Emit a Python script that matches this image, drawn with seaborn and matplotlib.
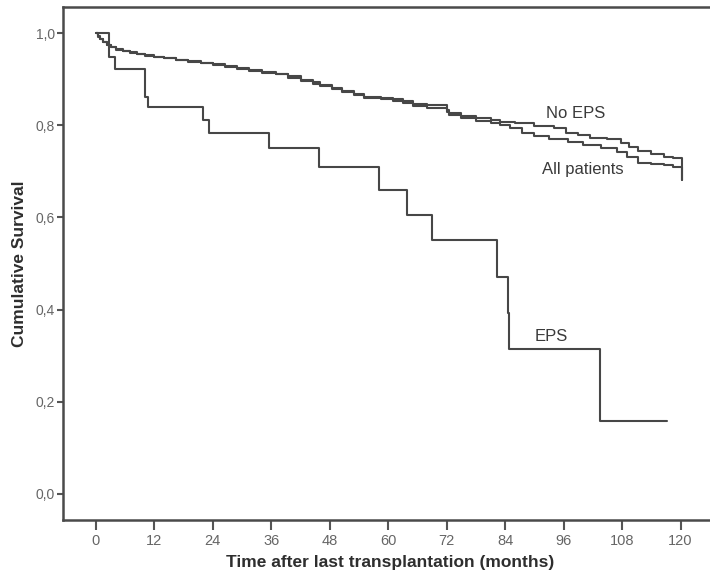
import numpy as np
import pandas as pd
import matplotlib
matplotlib.use("Agg")
import matplotlib.pyplot as plt
import seaborn as sns

# ---- data (Kaplan-Meier step points) ----
noeps_t = [0, 0.4, 0.9, 1.5, 2.2, 3.0, 4.2, 5.5, 7, 8.5, 10, 12, 14, 16.5, 19, 21.5, 24, 26.5,
           29, 31.5, 34, 37, 39.5, 42, 44.5, 46, 48.5, 50.5, 53, 55, 58.5, 61, 63, 65, 68, 72,
           72.5, 75, 78, 81, 83, 86, 90, 94, 96.5, 99, 101.5, 105, 107.8, 109.5, 111.2, 114,
           116.7, 118.5, 120.2]
noeps_s = [1.0, 0.993, 0.987, 0.981, 0.975, 0.970, 0.965, 0.961, 0.958, 0.955, 0.952, 0.949,
           0.946, 0.942, 0.939, 0.936, 0.933, 0.929, 0.924, 0.920, 0.916, 0.912, 0.906, 0.899,
           0.893, 0.887, 0.881, 0.874, 0.868, 0.862, 0.859, 0.856, 0.852, 0.845, 0.843, 0.833,
           0.826, 0.819, 0.815, 0.811, 0.808, 0.804, 0.799, 0.793, 0.783, 0.778, 0.772, 0.769,
           0.761, 0.752, 0.743, 0.737, 0.732, 0.729, 0.681]

all_t = [0, 0.4, 0.9, 1.5, 2.2, 3.0, 4.2, 5.5, 7, 8.5, 10, 12, 14, 16.5, 19, 21.5, 24, 26.5,
         29, 31.5, 34, 37, 39.5, 42, 44.5, 46, 48.5, 50.5, 53, 55, 58.5, 61, 63, 65, 68, 72,
         72.5, 75, 78, 81, 83, 85, 87.4, 90, 93, 96.9, 100, 103.7, 107, 109, 111.2, 114,
         116.7, 118.5, 120.2]
all_s = [1.0, 0.992, 0.986, 0.980, 0.974, 0.969, 0.964, 0.960, 0.957, 0.954, 0.951, 0.948,
         0.945, 0.941, 0.938, 0.935, 0.931, 0.927, 0.922, 0.918, 0.914, 0.910, 0.903, 0.896,
         0.890, 0.884, 0.878, 0.871, 0.865, 0.859, 0.856, 0.852, 0.848, 0.841, 0.838, 0.829,
         0.822, 0.815, 0.810, 0.805, 0.800, 0.794, 0.782, 0.777, 0.771, 0.764, 0.757, 0.750,
         0.741, 0.730, 0.717, 0.715, 0.713, 0.710, 0.681]

eps_t = [0, 2.7, 3.9, 10.0, 10.7, 21.9, 23.3, 35.6, 45.7, 58.1, 63.9, 69.0, 82.3, 84.5,
         84.7, 103.5, 117.2]
eps_s = [1.0, 0.949, 0.921, 0.862, 0.839, 0.811, 0.782, 0.750, 0.710, 0.659, 0.605, 0.551,
         0.471, 0.393, 0.314, 0.158, 0.158]

group_labels = ["No EPS", "All patients", "EPS"]
x_ticks = [0, 12, 24, 36, 48, 60, 72, 84, 96, 108, 120]
y_ticks = [0.0, 0.2, 0.4, 0.6, 0.8, 1.0]
y_ticklabels = ["0,0", "0,2", "0,4", "0,6", "0,8", "1,0"]

df = pd.concat([
    pd.DataFrame({"t": noeps_t, "s": noeps_s, "g": group_labels[0]}),
    pd.DataFrame({"t": all_t, "s": all_s, "g": group_labels[1]}),
    pd.DataFrame({"t": eps_t, "s": eps_s, "g": group_labels[2]}),
], ignore_index=True)

sns.set_style("white")
plt.rcParams["font.family"] = ["Liberation Sans", "DejaVu Sans"]

fig = plt.figure(figsize=(7.10, 5.73), dpi=100)
ax = fig.add_axes([63 / 710, 53 / 573, (710 - 63) / 710 + 0.01, (520 - 7) / 573])

line_col = "#474747"
for g in group_labels:
    sns.lineplot(data=df[df["g"] == g], x="t", y="s", ax=ax, color=line_col,
                 estimator=None, sort=False, drawstyle="steps-post", linewidth=1.5,
                 legend=False)

ax.set_xlim(-6.75, 127.5)
ax.set_ylim(-0.0564, 1.0564)
ax.set_xticks(x_ticks)
ax.set_xticklabels([str(v) for v in x_ticks])
ax.set_yticks(y_ticks)
ax.set_yticklabels(y_ticklabels)

ax.tick_params(axis="x", direction="out", length=7, width=1.5, color="#555555",
               labelsize=10.5, labelcolor="#666666", pad=3, bottom=True)
ax.tick_params(axis="y", direction="out", length=4, width=1.5, color="#555555",
               labelsize=10, labelcolor="#666666", pad=2, left=True)

for side in ["left", "bottom", "top"]:
    ax.spines[side].set_color("#4a4a4a")
    ax.spines[side].set_linewidth(1.8)
ax.spines["right"].set_visible(False)

ax.set_xlabel("Time after last transplantation (months)", fontsize=12.5, fontweight="bold",
              color="#2e2e2e", labelpad=5)
ax.set_ylabel("Cumulative Survival", fontsize=12.5, fontweight="bold", color="#2e2e2e",
              labelpad=6)

ax.text(98.5, 0.826, "No EPS", fontsize=12, color="#3a3a3a", ha="center", va="center")
ax.text(100.0, 0.703, "All patients", fontsize=12, color="#3a3a3a", ha="center", va="center")
ax.text(93.4, 0.341, "EPS", fontsize=12, color="#3a3a3a", ha="center", va="center")

fig.savefig("out.png", dpi=100)
